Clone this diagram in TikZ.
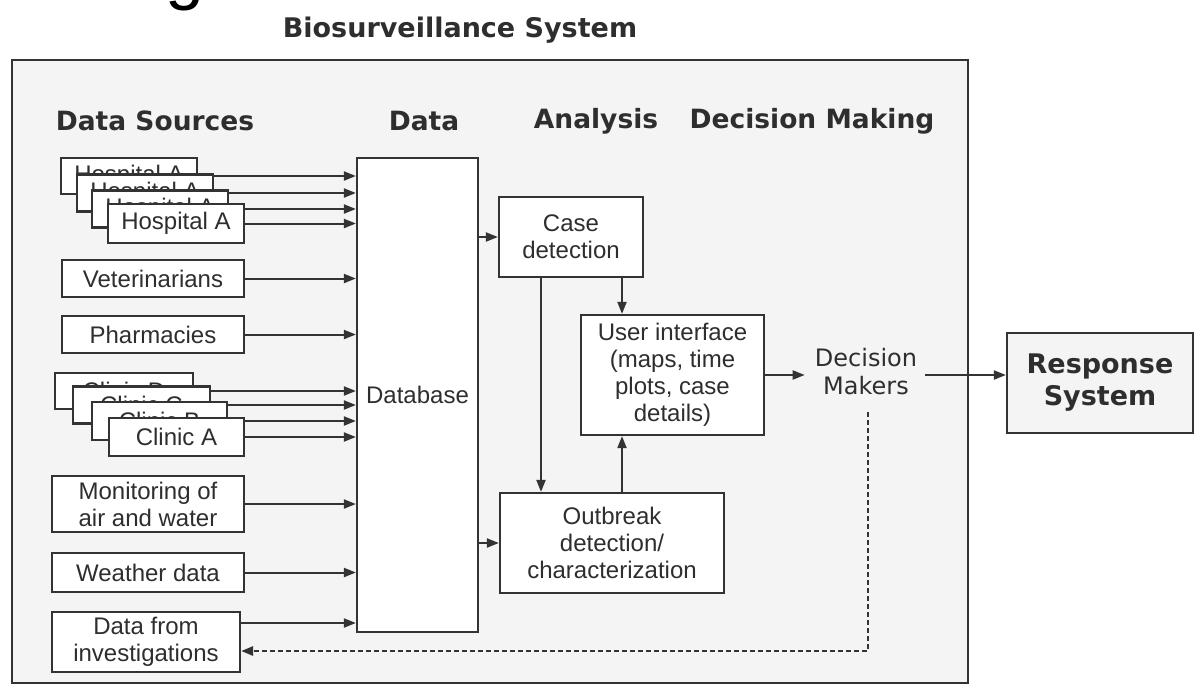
\documentclass[tikz,border=0pt]{standalone}
\usepackage{fontspec}
\setmainfont{Liberation Sans}
\newfontfamily\dvs{DejaVu Sans}
\usetikzlibrary{arrows.meta}
\definecolor{ln}{HTML}{333333}
\definecolor{txt}{HTML}{2E2E2E}
\definecolor{bg}{HTML}{F4F4F4}
\begin{document}
\begin{tikzpicture}[x=1pt,y=-1pt,
  bx/.style={draw=ln, fill=white, line width=2.2pt, align=center, inner sep=0pt,
    text=txt, font=\fontsize{24}{27}\selectfont},
  arr/.style={draw=ln, line width=2pt, -{Triangle[length=12pt,width=9pt]}},
  dsh/.style={draw=ln, line width=2.6pt, dash pattern=on 5pt off 3pt, -{Triangle[length=12pt,width=9pt]}},
  hdr/.style={font=\dvs\bfseries\fontsize{26.5}{30}\selectfont, text=txt, inner sep=0pt},
]
\useasboundingbox (0,0) rectangle (1196,686);
\begin{scope}
\clip (0,0) rectangle (1196,686);
\node[anchor=base west, inner sep=0pt, font=\fontsize{70}{70}\selectfont, text=black] (gfrag) at (165,-4) {g};
\end{scope}

% title
\node[font=\dvs\bfseries\fontsize{27}{30}\selectfont, text=txt, inner sep=0pt] (title) at (460,30) {Biosurveillance System};

% outer frame
\node[draw=ln, fill=bg, line width=2.2pt, minimum width=956pt, minimum height=623pt, inner sep=0pt] (frame) at (490,371.5) {};

% headers
\node[hdr] (hsrc) at (155,121) {Data Sources};
\node[hdr] (hdat) at (424,121) {Data};
\node[hdr] (hana) at (596,121) {Analysis};
\node[hdr] (hdec) at (812,121) {Decision Making};

% database
\node[bx, minimum width=121pt, minimum height=474pt] (db) at (417.5,395) {Database};

% hospitals
\node[bx, minimum width=136pt, minimum height=36pt] (h4) at (129,176) {\raisebox{-3pt}{Hospital A}};
\draw[arr] (h4.east) -- (h4.east -| db.west);
\node[bx, minimum width=136pt, minimum height=37pt] (h3) at (145,193) {\raisebox{-3pt}{Hospital A}};
\draw[arr] (h3.east) -- (h3.east -| db.west);
\node[bx, minimum width=136pt, minimum height=37pt] (h2) at (160,209) {\raisebox{-3pt}{Hospital A}};
\draw[arr] (h2.east) -- (h2.east -| db.west);
\node[bx, minimum width=136pt, minimum height=39pt] (h1) at (176,223.5) {Hospital A};
\draw[arr] (h1.east) -- (h1.east -| db.west);

% other sources
\node[bx, minimum width=182pt, minimum height=37pt] (vet) at (153,278.5) {Veterinarians};
\draw[arr] (vet.east) -- (vet.east -| db.west);
\node[bx, minimum width=182pt, minimum height=37pt] (pha) at (153,334.5) {Pharmacies};
\draw[arr] (pha.east) -- (pha.east -| db.west);

% clinics
\node[bx, minimum width=138pt, minimum height=36pt] (c4) at (124,391) {Clinic D};
\draw[arr] (c4.east) -- (c4.east -| db.west);
\node[bx, minimum width=137pt, minimum height=37pt] (c3) at (141.5,405) {Clinic C};
\draw[arr] (c3.east) -- (c3.east -| db.west);
\node[bx, minimum width=135pt, minimum height=38pt] (c2) at (159.5,421) {Clinic B};
\draw[arr] (c2.east) -- (c2.east -| db.west);
\node[bx, minimum width=135pt, minimum height=38pt] (c1) at (176.5,437) {Clinic A};
\draw[arr] (c1.east) -- (c1.east -| db.west);

\node[bx, minimum width=192pt, minimum height=56pt] (mon) at (148,504) {Monitoring of\\air and water};
\draw[arr] (mon.east) -- (mon.east -| db.west);
\node[bx, minimum width=192pt, minimum height=39pt] (wea) at (148,572.5) {Weather data};
\draw[arr] (wea.east) -- (wea.east -| db.west);
\node[bx, minimum width=188pt, minimum height=60pt] (inv) at (146,642) {Data from\\investigations};
\draw[arr] ([yshift=19pt]inv.east) -- ([yshift=19pt]inv.east -| db.west);

% analysis
\node[bx, minimum width=144pt, minimum height=80pt] (case) at (571,237) {Case\\detection};
\node[bx, minimum width=183pt, minimum height=120pt] (ui) at (672.5,375) {User interface\\(maps, time\\plots, case\\details)};
\node[bx, minimum width=224pt, minimum height=100pt] (out) at (612,543) {Outbreak\\detection/\\characterization};
\coordinate (cx) at (622,0);
\coordinate (ox) at (541,0);

\draw[arr] (case.west -| db.east) -- (case.west);
\draw[arr] (out.west -| db.east) -- (out.west);
\draw[arr] (case.south -| cx) -- (ui.north -| cx);
\draw[arr] (case.south -| ox) -- (out.north -| ox);
\draw[arr] (out.north -| cx) -- (ui.south -| cx);

% decision
\node[font=\dvs\fontsize{24}{28}\selectfont, text=txt, align=center, inner sep=0pt] (dm) at (866,372) {Decision\\Makers};
\draw[arr, shorten >=10pt] (ui.east) -- (ui.east -| dm.west);
\node[draw=ln, fill=bg, line width=2.2pt, minimum width=186pt, minimum height=100pt, inner sep=0pt,
  font=\dvs\bfseries\fontsize{27}{32}\selectfont, text=txt, align=center] (resp) at (1100,383) {Response\\System};
\draw[arr, shorten <=8pt] (ui.east -| dm.east) -- (ui.east -| resp.west);

\draw[dsh] ([xshift=2pt,yshift=-17pt]dm.south) |- ([yshift=-9pt]inv.east);
\end{tikzpicture}
\end{document}
